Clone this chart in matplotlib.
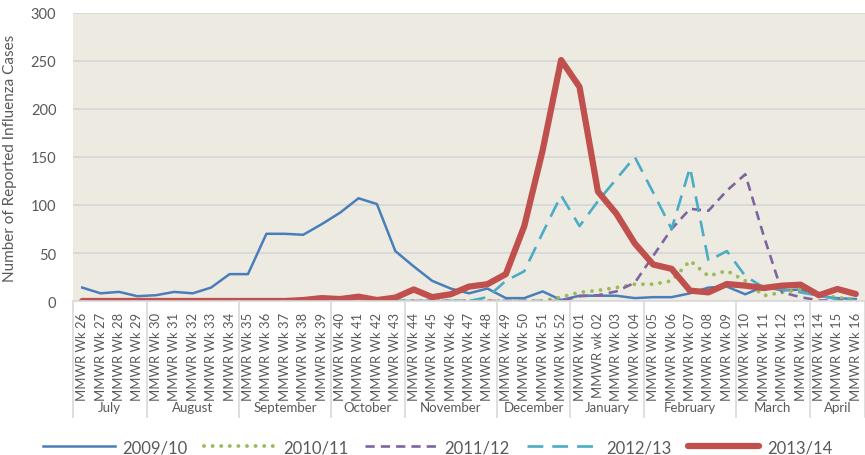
import numpy as np
import matplotlib.pyplot as plt
import matplotlib.transforms as mtransforms
from matplotlib.lines import Line2D

plt.rcParams["font.family"] = ["Lato", "DejaVu Sans"]

# ---------------------------------------------------------------------------
# Data
# ---------------------------------------------------------------------------
week_labels = (
    [f"MMWR Wk {w}" for w in range(26, 53)]
    + ["MMWR Wk 01", "MMWR wk 02"]
    + [f"MMWR Wk {w:02d}" for w in range(3, 17)]
)

months = ["July", "August", "September", "October", "November",
          "December", "January", "February", "March", "April"]
weeks_per_month = [4, 5, 5, 4, 5, 4, 4, 5, 4, 3]

nan = np.nan
s2009 = [14, 8, 9.5, 5, 6, 9.5, 8, 14, 28, 28, 70, 70, 69, 80, 92, 107, 101,
         52, 36, 21, 13, 8, 13, 3, 3, 10, 1,
         5.5, 5.5, 5.5, 3, 4, 4, 8, 14, 15, 7, 15, 11, 12, 5, 3, 2]
s2010 = [nan] * 17 + [0, 0, 0, 0, 0, 0, 0, 0, 0, 4,
         9, 11, 14, 17.5, 17.5, 21, 42, 26, 31.5, 21, 5.5, 9, 12, 7, 3.5, 2]
s2011 = [nan] * 17 + [0, 0, 0, 0, 0, 0, 0, 0, 0, 0,
         5, 6, 10, 19, 47, 75, 96, 94, 115, 132, 68, 9, 4, 0.5, 0.5, 1]
s2012 = [nan] * 17 + [0, 0, 0, 0, 0, 4, 21, 31, 71, 110,
         78, 104, 127, 150, 113, 75, 139, 42, 52, 26, 14, 12.5, 9, 5.5, 2, 0.5]
s2013 = [0] * 12 + [1, 3, 2, 4.5, 1, 3.5, 12, 4, 7, 15, 17.5, 28, 78, 157, 251,
         223, 114, 91, 60, 38, 33.5, 10.8, 9, 17.7, 16, 13.5, 16, 17, 6, 12.5, 7.3]

# ---------------------------------------------------------------------------
# Figure
# ---------------------------------------------------------------------------
W, H = 865, 456
fig = plt.figure(figsize=(W / 100, H / 100), dpi=100)
ax = fig.add_axes([73 / W, (H - 302) / H, 792 / W, 288 / H])
ax.set_facecolor("#EDEBE1")

x = np.arange(len(week_labels))
ax.plot(x, s2009, color="#4A7EBB", lw=1.8, label="2009/10")
ax.plot(x, s2010, color="#9BBB59", lw=2.8, ls=(0, (0.01, 2.2)),
        dash_capstyle="round", label="2010/11")
ax.plot(x, s2011, color="#8064A2", lw=1.9, ls=(0, (3.5, 2.3)), label="2011/12")
ax.plot(x, s2012, color="#4BACC6", lw=1.9, ls=(0, (6, 3.4)), label="2012/13")
ax.plot(x, s2013, color="#C0504D", lw=4.5, solid_capstyle="round",
        label="2013/14")

ax.set_xlim(-0.5, len(week_labels) - 0.5)
ax.set_ylim(0, 300)
ax.set_yticks(range(0, 301, 50))
ax.yaxis.grid(True, color="#D9D9D9", lw=1.4)
ax.set_axisbelow(True)
for side in ["top", "right", "left"]:
    ax.spines[side].set_visible(False)
ax.spines["bottom"].set_color("#D9D9D9")
ax.spines["bottom"].set_linewidth(1.2)

ax.tick_params(axis="y", length=0, labelsize=10.5, labelcolor="#595959", pad=12)
ax.set_xticks(x)
ax.set_xticklabels(week_labels, rotation=90, fontsize=9.4, color="#595959")
ax.tick_params(axis="x", length=0, pad=8)
ax.set_ylabel("Number of Reported Influenza Cases", fontsize=11,
              color="#595959", labelpad=10)

# month groups below the week labels
trans = mtransforms.blended_transform_factory(ax.transData, ax.transAxes)
bounds = np.concatenate([[0], np.cumsum(weeks_per_month)]) - 0.5
for b in bounds:
    ax.add_line(Line2D([b, b], [0, -0.403], transform=trans, color="#D9D9D9",
                       lw=1.2, clip_on=False))
for name, lo, hi in zip(months, bounds[:-1], bounds[1:]):
    ax.text((lo + hi) / 2, -0.368, name, transform=trans, ha="center",
            va="center", fontsize=9.5, color="#595959")

leg = fig.legend(loc="center", bbox_to_anchor=(0.506, 0.017), ncol=5,
                 frameon=False, handlelength=4.3, columnspacing=1.0,
                 fontsize=12, handletextpad=0.45, borderpad=0.2)
for t in leg.get_texts():
    t.set_color("#595959")

fig.savefig("out.png", dpi=100)
